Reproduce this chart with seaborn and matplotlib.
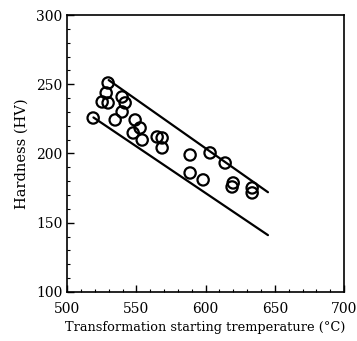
import matplotlib
matplotlib.use('Agg')
import matplotlib.pyplot as plt
import seaborn as sns
import pandas as pd
from matplotlib.ticker import MultipleLocator

# measured points (temperature, hardness)
temp = [529.6, 528.2, 525.3, 529.6, 539.7, 541.9, 539.7, 534.7, 518.8, 549.1,
        552.7, 547.7, 554.2, 565.0, 568.6, 568.6, 588.8, 603.2, 614.1, 588.8,
        598.2, 619.9, 619.1, 633.6, 633.6]
hardness = [250.9, 243.7, 237.2, 236.5, 240.8, 236.5, 230.0, 224.2, 225.6, 224.2,
            218.4, 214.8, 209.7, 211.9, 211.2, 204.0, 198.9, 200.4, 193.1, 185.9,
            180.9, 178.7, 175.8, 175.1, 171.5]

# band lines
upper_x = [530, 645]
upper_y = [253, 172]
lower_x = [519, 645]
lower_y = [226, 141]

sns.set_theme(style='ticks')
plt.rcParams['font.family'] = ['DejaVu Serif']
plt.rcParams['text.color'] = 'black'
plt.rcParams['axes.labelcolor'] = 'black'
plt.rcParams['xtick.color'] = 'black'
plt.rcParams['ytick.color'] = 'black'

fig = plt.figure(figsize=(3.57, 3.41), dpi=100)
ax = fig.add_axes([0.188, 0.144, 0.776, 0.812])

df = pd.DataFrame({'t': temp, 'h': hardness})
sns.lineplot(x=upper_x, y=upper_y, color='black', lw=1.6, ax=ax)
sns.lineplot(x=lower_x, y=lower_y, color='black', lw=1.6, ax=ax)
sns.scatterplot(data=df, x='t', y='h', s=66, facecolor='none', edgecolor='black',
                linewidth=1.6, ax=ax, zorder=3)

ax.set_xlim(500, 700)
ax.set_ylim(100, 300)
ax.xaxis.set_major_locator(MultipleLocator(50))
ax.xaxis.set_minor_locator(MultipleLocator(10))
ax.yaxis.set_major_locator(MultipleLocator(50))
ax.yaxis.set_minor_locator(MultipleLocator(10))
ax.tick_params(which='major', direction='in', length=5, width=1, labelsize=10)
ax.tick_params(which='minor', direction='in', length=2.5, width=0.8)
ax.tick_params(axis='x', pad=7)
for s in ax.spines.values():
    s.set_linewidth(1.2)
    s.set_color('black')

ax.set_xlabel('Transformation starting tremperature (°C)', fontsize=9.3, labelpad=4)
ax.set_ylabel('Hardness (HV)', fontsize=10.5, labelpad=5)

plt.savefig('out.png', dpi=100)
